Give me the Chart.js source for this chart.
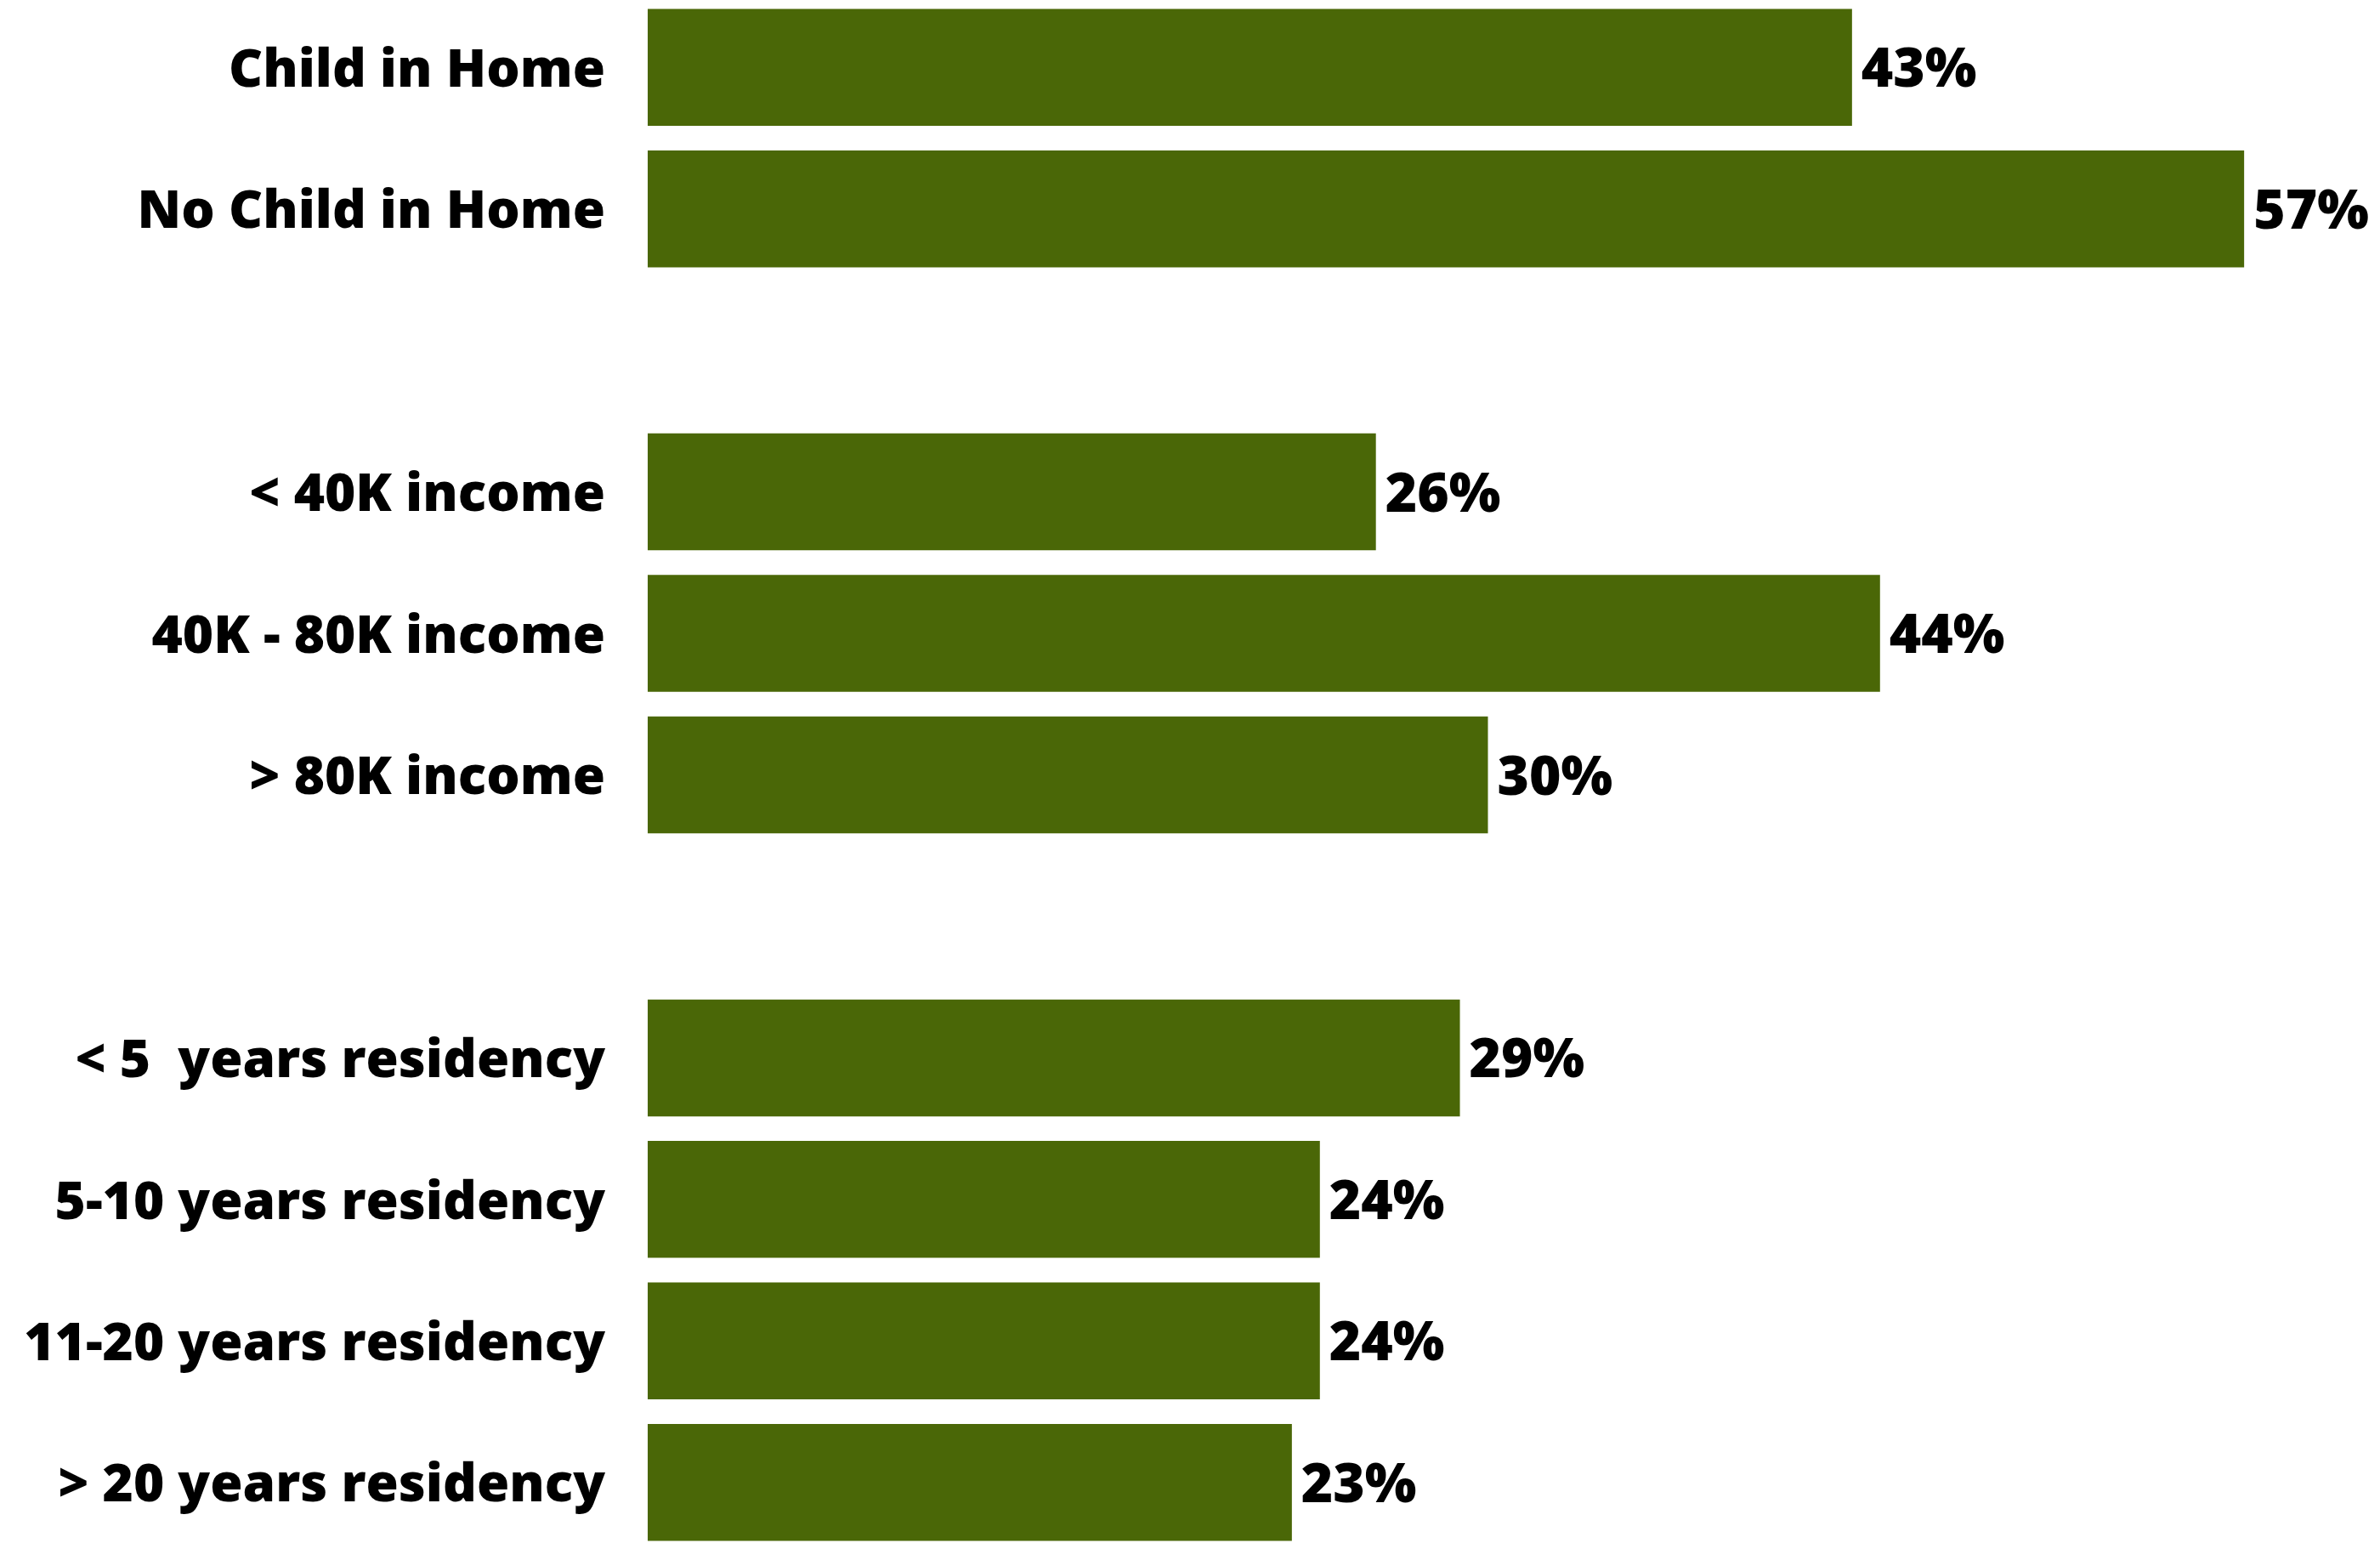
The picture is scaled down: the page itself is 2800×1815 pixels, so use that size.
<!DOCTYPE html>
<html>
<head>
<meta charset="utf-8">
<script src="https://cdn.jsdelivr.net/npm/chart.js@4.4.1/dist/chart.umd.min.js"></script>
<style>
  html, body { margin: 0; padding: 0; background: #ffffff; overflow: hidden; }
  #c { position: absolute; left: 0; top: -4px; }
</style>
</head>
<body>
<canvas id="c" width="2800" height="1831"></canvas>
<script>
const categories = [
  'Child in Home',
  'No Child in Home',
  '',
  '< 40K income',
  '40K - 80K income',
  '> 80K income',
  '',
  '< 5  years residency',
  '5-10 years residency',
  '11-20 years residency',
  '> 20 years residency'
];
const values = [43, 57, null, 26, 44, 30, null, 29, 24, 24, 23];
const valueLabels = ['43%', '57%', '', '26%', '44%', '30%', '', '29%', '24%', '24%', '23%'];

const FONT = '"Open Sans", Lato, sans-serif';
const BAR_COLOR = '#4a6707';

const valueLabelPlugin = {
  id: 'valueLabels',
  afterDatasetsDraw(chart) {
    const ctx = chart.ctx;
    const meta = chart.getDatasetMeta(0);
    ctx.save();
    ctx.font = '800 64px ' + FONT;
    ctx.fillStyle = '#000000';
    ctx.textAlign = 'left';
    ctx.textBaseline = 'alphabetic';
    meta.data.forEach((bar, i) => {
      if (values[i] == null) return;
      ctx.fillText(valueLabels[i], bar.x + 11, bar.y + 23);
    });
    ctx.restore();
  }
};

new Chart(document.getElementById('c'), {
  type: 'bar',
  data: {
    labels: categories,
    datasets: [{
      data: values,
      backgroundColor: BAR_COLOR,
      borderWidth: 0,
      barPercentage: 0.826,
      categoryPercentage: 1.0
    }]
  },
  options: {
    indexAxis: 'y',
    responsive: false,
    animation: false,
    layout: { padding: { top: 0, bottom: 0, left: 0, right: 61 } },
    plugins: { legend: { display: false }, tooltip: { enabled: false } },
    scales: {
      x: { display: false, min: 0, max: 60 },
      y: {
        grid: { display: false, drawTicks: false },
        border: { display: false },
        ticks: {
          color: '#000000',
          padding: 50,
          labelOffset: 5,
          font: { family: FONT, size: 62, weight: '800' }
        },
        afterFit(scale) {
          scale.width = 762;
          scale.paddingTop = 0;
          scale.paddingBottom = 0;
        }
      }
    }
  },
  plugins: [valueLabelPlugin]
});
</script>
</body>
</html>
